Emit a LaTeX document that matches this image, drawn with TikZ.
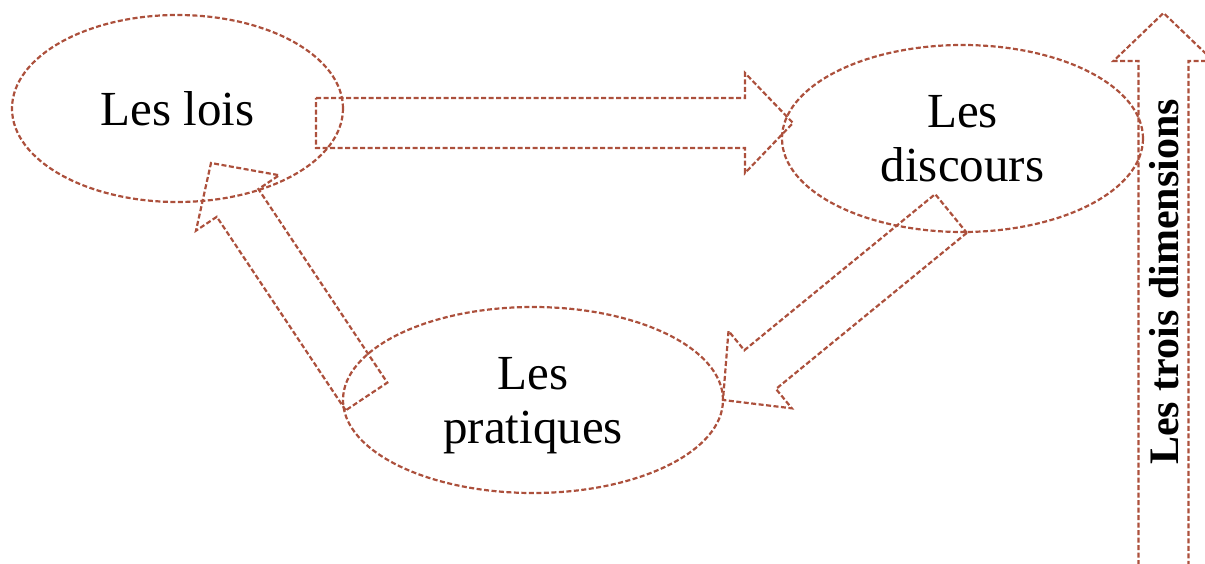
\documentclass[tikz,border=0pt]{standalone}
\usepackage{fontspec}
\setmainfont{Liberation Serif}
\usetikzlibrary{shapes.geometric,calc}
\definecolor{brique}{RGB}{172,80,60}
\newcommand{\bloc}[2]{%
	\coordinate (h) at ($(#2)!48pt!(#1)$);
	\draw[fleche] ($(#1)!25pt!90:(#2)$) -- ($(h)!25pt!-90:(#1)$) -- ($(h)!50pt!-90:(#1)$) -- (#2)
		-- ($(h)!50pt!90:(#1)$) -- ($(h)!25pt!90:(#1)$) -- ($(#1)!25pt!-90:(#2)$) -- cycle;
}

\begin{document}
\begin{tikzpicture}[x=1pt,y=-1pt,
		trait/.style={draw=brique,line width=2.2pt,dash pattern=on 5pt off 2.5pt},
		ovale/.style={trait,ellipse,inner sep=0pt,align=center,font=\fontsize{49}{54}\selectfont},
		fleche/.style={trait,line join=miter}]
		\useasboundingbox (0,0) rectangle (1205,564);
		\clip (0,0) rectangle (1205,564);
		
		\node[ovale, minimum width=331pt, minimum height=187pt] (lois) at (177.5,108.5) {Les lois};
		\node[ovale, minimum width=361pt, minimum height=187pt] (discours) at (962.5,138.5) {Les\\discours};
		\node[ovale, minimum width=380pt, minimum height=186pt, text depth=0pt] (pratiques) at (533,400) {Les\\pratiques};
		
		\coordinate (l1) at (316,123);
		\coordinate (d1) at (793,123);
		\coordinate (p1) at (366.5,396.5);
		\coordinate (l2) at (211,163);
		\coordinate (d2) at (951,213.5);
		\coordinate (p2) at (723,400);
		\coordinate (bas) at (1163.5,640);
		\coordinate (haut) at (1163.5,13);
		
		\bloc{l1}{d1}
		\bloc{p1}{l2}
		\bloc{d2}{p2}
		\bloc{bas}{haut}
		
		\node[rotate=90, anchor=base, font=\fontsize{42}{48}\selectfont\bfseries] (dim) at (1178,282) {Les trois dimensions};
	\end{tikzpicture}
\end{document}
